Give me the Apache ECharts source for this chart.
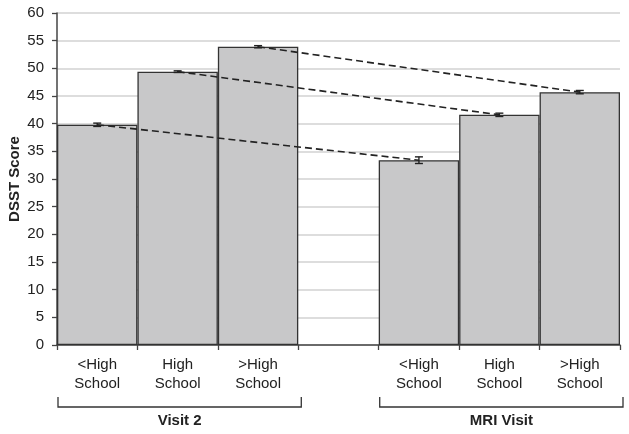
<!DOCTYPE html>
<html>
<head>
<meta charset="utf-8">
<style>html,body{margin:0;padding:0;background:#fff;}#c{width:629px;height:434px;}</style>
<script src="https://cdn.jsdelivr.net/npm/echarts@6/dist/echarts.min.js"></script>
</head>
<body>
<div id="c"></div>
<script>
var categories = ['<High\nSchool', 'High\nSchool', '>High\nSchool', '', '<High\nSchool', 'High\nSchool', '>High\nSchool'];
var groupLabels = ['Visit 2', 'MRI Visit'];
var visit2Values = [39.8, 49.4, 53.9];
var mriValues = [33.4, 41.6, 45.7];
var visit2Errors = [0.3, 0.15, 0.2];
var mriErrors = [0.6, 0.3, 0.3];
var yTicks = {min: 0, max: 60, interval: 5};

var barData = visit2Values.concat(['-']).concat(mriValues);
var errData = [];
visit2Values.forEach(function (v, i) { errData.push([i, v - visit2Errors[i], v + visit2Errors[i]]); });
mriValues.forEach(function (v, i) { errData.push([i + 4, v - mriErrors[i], v + mriErrors[i]]); });

var series = [{
  type: 'bar',
  data: barData,
  barCategoryGap: 0,
  itemStyle: {color: '#c8c8c9', borderColor: '#333', borderWidth: 1.3},
  z: 2
}, {
  type: 'custom',
  data: errData,
  z: 4,
  renderItem: function (params, api) {
    var x = api.value(0);
    var lo = api.coord([x, api.value(1)]);
    var hi = api.coord([x, api.value(2)]);
    var w = 4;
    return {
      type: 'group',
      children: [
        {type: 'line', shape: {x1: lo[0], y1: lo[1], x2: hi[0], y2: hi[1]}, style: {stroke: '#222', lineWidth: 1.4}},
        {type: 'line', shape: {x1: lo[0] - w, y1: lo[1], x2: lo[0] + w, y2: lo[1]}, style: {stroke: '#222', lineWidth: 1.4}},
        {type: 'line', shape: {x1: hi[0] - w, y1: hi[1], x2: hi[0] + w, y2: hi[1]}, style: {stroke: '#222', lineWidth: 1.4}}
      ]
    };
  }
}];
for (var i = 0; i < 3; i++) {
  var d = [null, null, null, null, null, null, null];
  d[i] = visit2Values[i];
  d[i + 4] = mriValues[i];
  series.push({
    type: 'line',
    data: d,
    connectNulls: true,
    symbol: 'none',
    silent: true,
    z: 3,
    lineStyle: {color: '#222', width: 1.6, type: [7, 4]}
  });
}

var chart = echarts.init(document.getElementById('c'), null, {renderer: 'canvas'});
chart.setOption({
  animation: false,
  backgroundColor: '#fff',
  grid: {left: 57, right: 9, top: 13, bottom: 89, containLabel: false, outerBoundsMode: 'none'},
  xAxis: {
    type: 'category',
    data: categories,
    axisLine: {lineStyle: {color: '#444', width: 1.5}},
    axisTick: {show: true, length: 5, lineStyle: {color: '#444', width: 1.3}},
    axisLabel: {color: '#222', fontSize: 15, fontFamily: 'Liberation Sans, Arial, sans-serif', lineHeight: 19, margin: 10, interval: 0}
  },
  yAxis: {
    type: 'value',
    min: yTicks.min, max: yTicks.max, interval: yTicks.interval,
    name: 'DSST Score',
    nameLocation: 'middle',
    nameGap: 35,
    nameMoveOverlap: false,
    nameTextStyle: {color: '#222', fontSize: 15, fontWeight: 'bold', fontFamily: 'Liberation Sans, Arial, sans-serif'},
    axisLine: {show: true, lineStyle: {color: '#444', width: 1.5}},
    axisTick: {show: true, length: 5, lineStyle: {color: '#444', width: 1.3}},
    axisLabel: {color: '#222', fontSize: 15, fontFamily: 'Liberation Sans, Arial, sans-serif', margin: 13},
    splitLine: {lineStyle: {color: '#d2d2d2', width: 1.5}}
  },
  series: series
});

function drawBrackets() {
  var c0 = chart.convertToPixel({xAxisIndex: 0}, 0);
  var c1 = chart.convertToPixel({xAxisIndex: 0}, 1);
  var bw = c1 - c0;
  var y0 = chart.convertToPixel({yAxisIndex: 0}, 0);
  var groups = [[0, 2], [4, 6]];
  var els = [];
  groups.forEach(function (g, k) {
    var xl = chart.convertToPixel({xAxisIndex: 0}, g[0]) - bw / 2 + 1;
    var xr = chart.convertToPixel({xAxisIndex: 0}, g[1]) + bw / 2 + 3;
    var top = y0 + 52, bot = y0 + 62;
    els.push({
      type: 'polyline',
      shape: {points: [[xl, top], [xl, bot], [xr, bot], [xr, top]]},
      style: {stroke: '#333', lineWidth: 1.3, fill: null}
    });
    els.push({
      type: 'text',
      x: (xl + xr) / 2, y: y0 + 76,
      style: {text: groupLabels[k], fill: '#222', fontSize: 15, fontWeight: 'bold', fontFamily: 'Liberation Sans, Arial, sans-serif', align: 'center', verticalAlign: 'middle'}
    });
  });
  chart.setOption({graphic: {elements: els}});
}
drawBrackets();
</script>
</body>
</html>
